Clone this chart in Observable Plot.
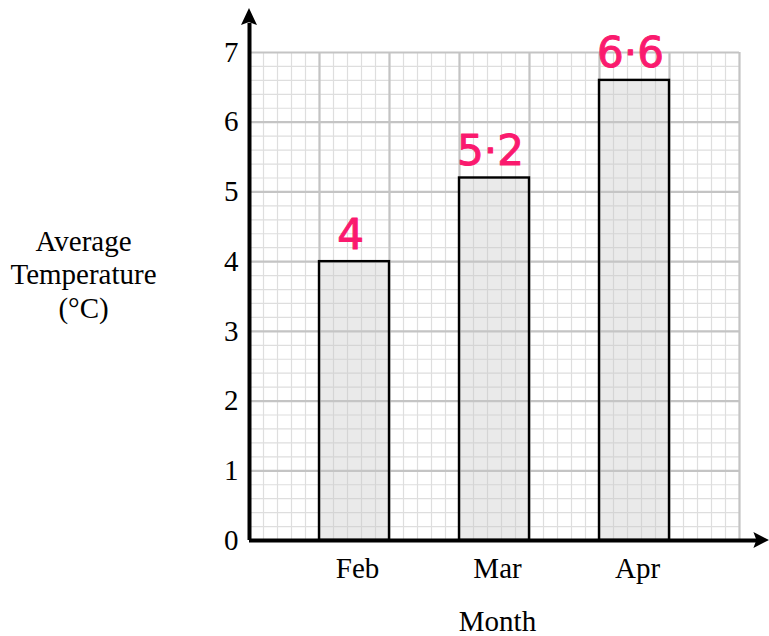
<!DOCTYPE html>
<html>
<head>
<meta charset="utf-8">
<script src="https://cdn.jsdelivr.net/npm/d3@7"></script>
<script src="https://cdn.jsdelivr.net/npm/@observablehq/plot@0.6"></script>
<style>
  html, body { margin: 0; padding: 0; background: #fff; }
</style>
</head>
<body>
<div id="chart"></div>
<script>
// Data
const months = ["Feb", "Mar", "Apr"];
const temps = [4, 5.2, 6.6];
const valueLabels = ["4", "5·2", "6·6"];
const yTicks = [0, 1, 2, 3, 4, 5, 6, 7];
const xAxisTitle = "Month";
const yAxisTitle = "Average\nTemperature\n(°C)";

// Bars sit in every other grid column
const bars = months.map((m, i) => ({
  month: m, temp: temps[i], label: valueLabels[i], x1: 2 * i + 1, x2: 2 * i + 2
}));

const minor = d3.range(36).map(i => i / 5);
const major = d3.range(8);
const serif = "'Liberation Serif', 'Times New Roman', serif";
const pink = "#fa1a6e";
const fs = 29;

const chart = Plot.plot({
  width: 769,
  height: 636,
  marginLeft: 249,
  marginRight: 30,
  marginTop: 52,
  marginBottom: 96,
  x: { type: "linear", domain: [0, 7], axis: null },
  y: { type: "linear", domain: [0, 7], axis: null },
  style: { fontFamily: serif, background: "#fff", overflow: "visible" },
  marks: [
    // minor grid
    Plot.ruleX(minor, { y1: 0, y2: 7, stroke: "#dedede", strokeWidth: 1.2 }),
    Plot.ruleY(minor, { x1: 0, x2: 7, stroke: "#dedede", strokeWidth: 1.2 }),
    // major grid
    Plot.ruleX(major, { y1: 0, y2: 7, stroke: "#c4c4c4", strokeWidth: 2.2 }),
    Plot.ruleY(major, { x1: 0, x2: 7, stroke: "#c4c4c4", strokeWidth: 2.2 }),
    // bars
    Plot.rectY(bars, {
      x1: "x1", x2: "x2", y: "temp",
      fill: "#c9c9c9", fillOpacity: 0.38,
      stroke: "#000", strokeWidth: 2.4, insetLeft: 0, insetRight: 0
    }),
    // value labels
    Plot.text(bars, {
      x: d => (d.x1 + d.x2) / 2, y: "temp", text: "label",
      lineAnchor: "bottom", dy: -13, dx: -4,
      fill: pink, stroke: pink, strokeWidth: 1, strokeLinejoin: "round",
      fontSize: 42, fontFamily: "'DejaVu Sans', sans-serif"
    }),
    // y tick labels
    Plot.axisY(yTicks, { tickSize: 0, tickPadding: 11, tickFormat: "d", fontSize: fs, fontFamily: serif, fill: "#000", label: null }),
    // month labels
    Plot.text(bars, {
      x: d => (d.x1 + d.x2) / 2, y: 0, text: "month",
      lineAnchor: "bottom", dy: 37, dx: 3, fontSize: fs, fontFamily: serif, fill: "#000"
    }),
    // x axis title
    Plot.text([xAxisTitle], {
      x: 3.5, frameAnchor: "bottom", text: d => d,
      lineAnchor: "bottom", dy: 90, dx: 3, fontSize: fs, fontFamily: serif, fill: "#000"
    }),
    // y axis title
    Plot.text([yAxisTitle], {
      frameAnchor: "left", text: d => d,
      dx: -166, dy: -23, textAnchor: "middle", lineHeight: 1.16,
      fontSize: fs, fontFamily: serif, fill: "#000"
    }),
    // axis lines
    Plot.ruleX([0], { y1: 0, y2: 7.42, stroke: "#000", strokeWidth: 4 }),
    Plot.ruleY([0], { x1: 0, x2: 7.27, stroke: "#000", strokeWidth: 4 })
  ]
});

document.getElementById("chart").appendChild(chart);

// Arrow heads, positioned via the chart's scales
const sx = chart.scale("x"), sy = chart.scale("y");
const x0 = sx.apply(0), y0 = sy.apply(0);
const yTip = sy.apply(7.63), yBase = sy.apply(7.4);
const xTip = sx.apply(7.43), xBase = sx.apply(7.22);
const svg = d3.select(chart);
svg.append("path")
  .attr("d", `M${x0},${yTip} L${x0 + 8},${yBase + 1} L${x0},${yBase - 2} L${x0 - 8},${yBase + 1} Z`)
  .attr("fill", "#000");
svg.append("path")
  .attr("d", `M${xTip},${y0} L${xBase - 1},${y0 - 8} L${xBase + 2},${y0} L${xBase - 1},${y0 + 8} Z`)
  .attr("fill", "#000");
</script>
</body>
</html>
